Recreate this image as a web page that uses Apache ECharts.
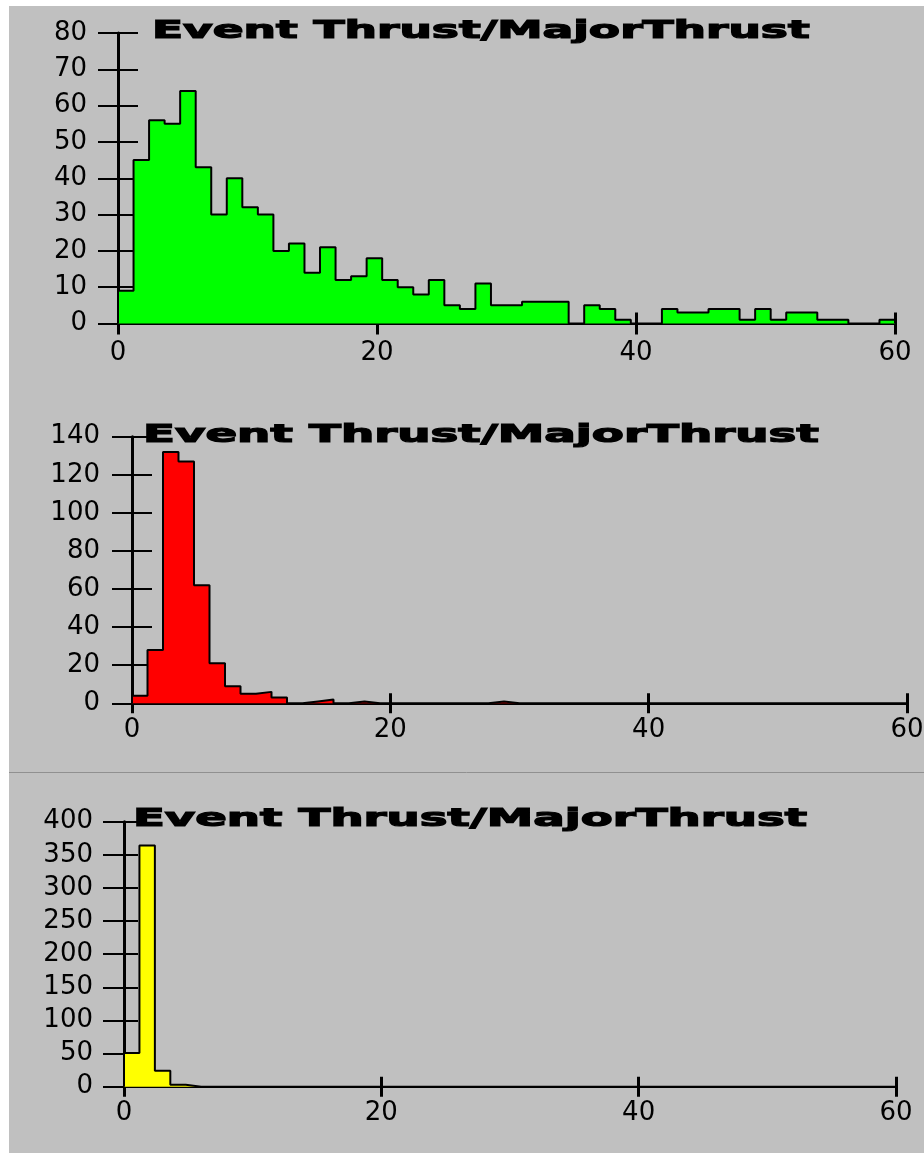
<!DOCTYPE html>
<html><head><meta charset="utf-8">
<script src="https://cdn.jsdelivr.net/npm/echarts@6/dist/echarts.min.js"></script>
<style>html,body{margin:0;padding:0;background:#fff;}#c{width:924px;height:1153px;}</style>
</head><body><div id="c"></div>
<script>
const titleText = 'Event Thrust/MajorThrust';
const binWidth = 1.2;
const xTicks = [0, 20, 40, 60];
const yTicks1 = [0, 10, 20, 30, 40, 50, 60, 70, 80];
const yTicks2 = [0, 20, 40, 60, 80, 100, 120, 140];
const yTicks3 = [0, 50, 100, 150, 200, 250, 300, 350, 400];
const counts1 = [9, 45, 56, 55, 64, 43, 30, 40, 32, 30,
                 20, 22, 14, 21, 12, 13, 18, 12, 10, 8,
                 12, 5, 4, 11, 5, 5, 6, 6, 6, 0,
                 5, 4, 1, 0, 0, 4, 3, 3, 4, 4,
                 1, 4, 1, 3, 3, 1, 1, 0, 0, 1];
const counts2 = [4, 28, 132, 127, 62, 21, 9, 5, 6, 3,
                 0, 1, 2, 0, 1, 0, 0, 0, 0, 0,
                 0, 0, 0, 1, 0, 0, 0, 0, 0, 0,
                 0, 0, 0, 0, 0, 0, 0, 0, 0, 0,
                 0, 0, 0, 0, 0, 0, 0, 0, 0, 0];
const counts3 = [51, 364, 24, 3, 0, 0, 0, 0, 0, 0,
                 0, 0, 0, 0, 0, 0, 0, 0, 0, 0,
                 0, 0, 0, 0, 0, 0, 0, 0, 0, 0,
                 0, 0, 0, 0, 0, 0, 0, 0, 0, 0,
                 0, 0, 0, 0, 0, 0, 0, 0, 0, 0];

function stepData(counts) {
  const d = [[0, 0]];
  counts.forEach((v, i) => d.push([+(i * binWidth).toFixed(4), v]));
  const end = +(counts.length * binWidth).toFixed(4);
  d.push([end, counts[counts.length - 1]]);
  d.push([end, 0]);
  return d;
}

const panels = [
  { counts: counts1, color: '#00ff00', yTicks: yTicks1,
    grid: { left: 118, right: 29, top: 33, height: 290.5 },
    title: { x: 152, y: 31, sx: 1.82 }, xMargin: 17, yMargin: 31, yOut: 20, yIn: 20, xTick: 11 },
  { counts: counts2, color: '#ff0000', yTicks: yTicks2,
    grid: { left: 132, right: 17, top: 436.7, height: 266.6 },
    title: { x: 143, y: 435.5, sx: 1.87 }, xMargin: 14, yMargin: 32, yOut: 20, yIn: 20, xTick: 10 },
  { counts: counts3, color: '#ffff00', yTicks: yTicks3,
    grid: { left: 124, right: 28, top: 821.7, height: 265 },
    title: { x: 133, y: 819, sx: 1.865 }, xMargin: 14, yMargin: 31, yOut: 21, yIn: 14, xTick: 10 }
];

const labelFont = { color: '#000', fontFamily: 'DejaVu Sans', fontSize: 26 };
const grids = [], xAxes = [], yAxes = [], series = [], graphics = [];

graphics.push({ type: 'rect', z: -100, silent: true,
  shape: { x: 9, y: 6, width: 915, height: 1147 }, style: { fill: '#c0c0c0' } });
graphics.push({ type: 'line', z: -90, silent: true,
  shape: { x1: 9, y1: 772.5, x2: 924, y2: 772.5 }, style: { stroke: '#909090', lineWidth: 1 } });

panels.forEach((p, i) => {
  grids.push(Object.assign({ containLabel: false, outerBoundsMode: 'none' }, p.grid));
  const xBase = { type: 'value', gridIndex: i, min: xTicks[0], max: xTicks[xTicks.length - 1],
    interval: xTicks[1] - xTicks[0], position: 'bottom', splitLine: { show: false } };
  xAxes.push(Object.assign({}, xBase, {
    axisLine: { show: true, lineStyle: { color: '#000', width: 2 } },
    axisTick: { show: true, inside: false, length: p.xTick, lineStyle: { color: '#000', width: 3 } },
    axisLabel: Object.assign({ show: true, margin: p.xMargin, showMinLabel: true, showMaxLabel: true,
      hideOverlap: false }, labelFont)
  }));
  xAxes.push(Object.assign({}, xBase, {
    axisLine: { show: false },
    axisTick: { show: true, inside: true, length: p.xTick, lineStyle: { color: '#000', width: 3 } },
    axisLabel: { show: false }
  }));
  const yBase = { type: 'value', gridIndex: i, min: p.yTicks[0], max: p.yTicks[p.yTicks.length - 1],
    interval: p.yTicks[1] - p.yTicks[0], position: 'left', splitLine: { show: false } };
  yAxes.push(Object.assign({}, yBase, {
    axisLine: { show: true, lineStyle: { color: '#000', width: 3 } },
    axisTick: { show: true, inside: false, length: p.yOut, lineStyle: { color: '#000', width: 2 } },
    axisLabel: Object.assign({ show: true, margin: p.yMargin, showMinLabel: true, showMaxLabel: true,
      hideOverlap: false }, labelFont)
  }));
  yAxes.push(Object.assign({}, yBase, {
    axisLine: { show: false },
    axisTick: { show: true, inside: true, length: p.yIn, lineStyle: { color: '#000', width: 2 } },
    axisLabel: { show: false }
  }));
  series.push({
    type: 'line', xAxisIndex: i * 2, yAxisIndex: i * 2, step: 'end', clip: false,
    showSymbol: false, symbol: 'none', animation: false,
    data: stepData(p.counts),
    lineStyle: { color: '#000', width: 2 },
    areaStyle: { color: p.color, opacity: 1 }
  });
  graphics.push({ type: 'text', x: p.title.x, y: p.title.y, scaleX: p.title.sx, z: 10,
    style: { text: titleText, x: 0, y: 0, fill: '#000', stroke: '#000', lineWidth: 1.2,
      verticalAlign: 'middle', align: 'left', font: 'bold 25px "DejaVu Sans"' } });
});

const chart = echarts.init(document.getElementById('c'), null, { renderer: 'canvas' });
chart.setOption({
  animation: false,
  backgroundColor: '#ffffff',
  grid: grids, xAxis: xAxes, yAxis: yAxes, series: series,
  graphic: graphics
});
</script></body></html>
